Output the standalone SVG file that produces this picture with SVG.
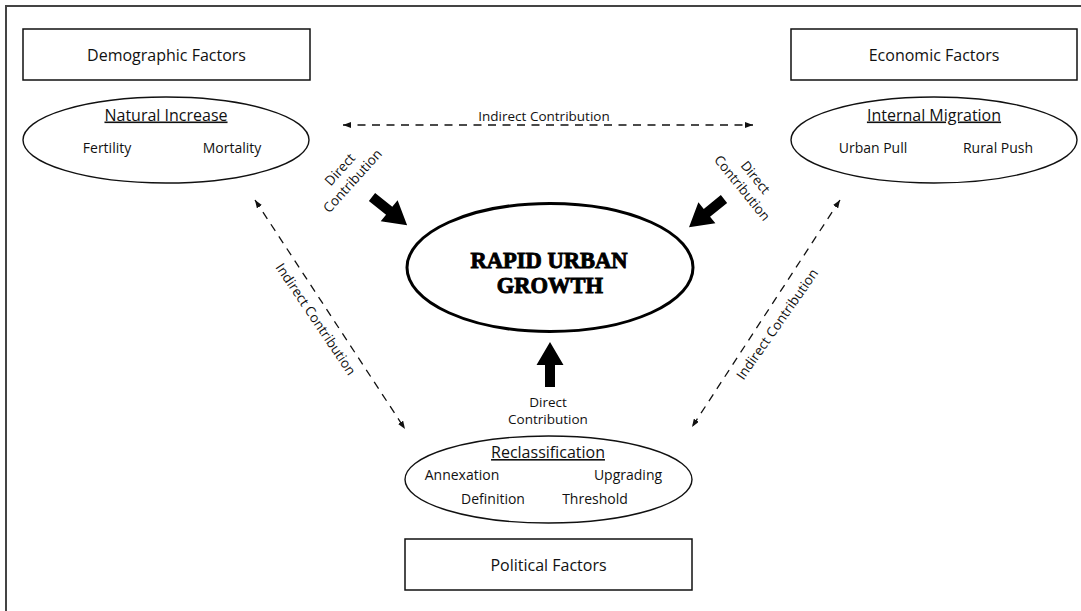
<svg xmlns="http://www.w3.org/2000/svg" width="1081" height="611" viewBox="0 0 1081 611">
<style>
.t{font-family:"Open Sans","Noto Sans",sans-serif;fill:#111;text-anchor:middle}
.f{font-size:16px}
.h{font-size:16px;text-decoration:underline}
.i{font-size:14px}
.c{font-size:13.5px}
.box{fill:#fff;stroke:#111;stroke-width:1.5}
.ell{fill:#fff;stroke:#111;stroke-width:1.4}
.dash{stroke:#111;stroke-width:1.3;stroke-dasharray:8 6.5;fill:none;marker-start:url(#ah);marker-end:url(#ah)}
.big{fill:#000}
.rug{font-family:"Liberation Serif",serif;font-weight:bold;font-size:22.5px;fill:#000;stroke:#000;stroke-width:0.9;text-anchor:middle}
</style>
<defs>
<marker id="ah" viewBox="0 0 8 6" refX="8" refY="3" markerWidth="8" markerHeight="6" markerUnits="userSpaceOnUse" orient="auto-start-reverse">
<path d="M0,0 L8,3 L0,6 z" fill="#111"/>
</marker>
<path id="thick" d="M0,-5 H22 V-13.5 L45,0 L22,13.5 V5 H0 Z"/>
</defs>
<rect width="1081" height="611" fill="#fff"/>
<path d="M6,611 V6 H1081" fill="none" stroke="#444" stroke-width="2"/>

<g id="connectors">
<line class="dash" x1="343" y1="125" x2="753" y2="125"/>
<line class="dash" x1="255" y1="200" x2="405" y2="429"/>
<line class="dash" x1="840" y1="200" x2="692" y2="427"/>
<use href="#thick" class="big" transform="translate(372,197) rotate(38.7)"/>
<use href="#thick" class="big" transform="translate(724,199) rotate(141)"/>
<use href="#thick" class="big" transform="translate(550,387) rotate(-90)"/>
<text class="t c" x="544" y="120.5">Indirect Contribution</text>
<g transform="translate(346,175) rotate(-48)">
<text class="t c" x="0" y="-3.5">Direct</text>
<text class="t c" x="0" y="13.5">Contribution</text>
</g>
<g transform="translate(749,182.5) rotate(51)">
<text class="t c" x="0" y="-3.5">Direct</text>
<text class="t c" x="0" y="13.5">Contribution</text>
</g>
<text class="t c" transform="translate(316,319) rotate(56)" x="0" y="5">Indirect Contribution</text>
<text class="t c" transform="translate(777,324) rotate(-55)" x="0" y="5">Indirect Contribution</text>
<text class="t c" x="548" y="406.5">Direct</text>
<text class="t c" x="548" y="424">Contribution</text>
</g>

<g id="demographic">
<rect class="box" x="23" y="29" width="287" height="51"/>
<text class="t f" x="166.5" y="60.7">Demographic Factors</text>
</g>
<g id="economic">
<rect class="box" x="791" y="29" width="286" height="51"/>
<text class="t f" x="934" y="60.7">Economic Factors</text>
</g>
<g id="natural-increase">
<ellipse class="ell" cx="166" cy="140" rx="143" ry="43"/>
<text class="t h" x="166" y="120.5">Natural Increase</text>
<text class="t i" x="107" y="152.5">Fertility</text>
<text class="t i" x="232" y="152.5">Mortality</text>
</g>
<g id="internal-migration">
<ellipse class="ell" cx="934" cy="140" rx="143" ry="43"/>
<text class="t h" x="934" y="120.5">Internal Migration</text>
<text class="t i" x="873" y="152.5">Urban Pull</text>
<text class="t i" x="998" y="152.5">Rural Push</text>
</g>
<g id="rapid-urban-growth">
<ellipse cx="550" cy="267.5" rx="143" ry="64" fill="#fff" stroke="#000" stroke-width="3"/>
<text class="rug" x="549" y="268">RAPID URBAN</text>
<text class="rug" x="550" y="293">GROWTH</text>
</g>
<g id="reclassification">
<ellipse class="ell" cx="548.5" cy="479.5" rx="143.5" ry="43.5"/>
<text class="t h" x="548" y="458">Reclassification</text>
<text class="t i" x="462" y="480">Annexation</text>
<text class="t i" x="628" y="480">Upgrading</text>
<text class="t i" x="493" y="504">Definition</text>
<text class="t i" x="595" y="504">Threshold</text>
</g>
<g id="political">
<rect class="box" x="405" y="539" width="287" height="51"/>
<text class="t f" x="548.5" y="570.5">Political Factors</text>
</g>
</svg>
